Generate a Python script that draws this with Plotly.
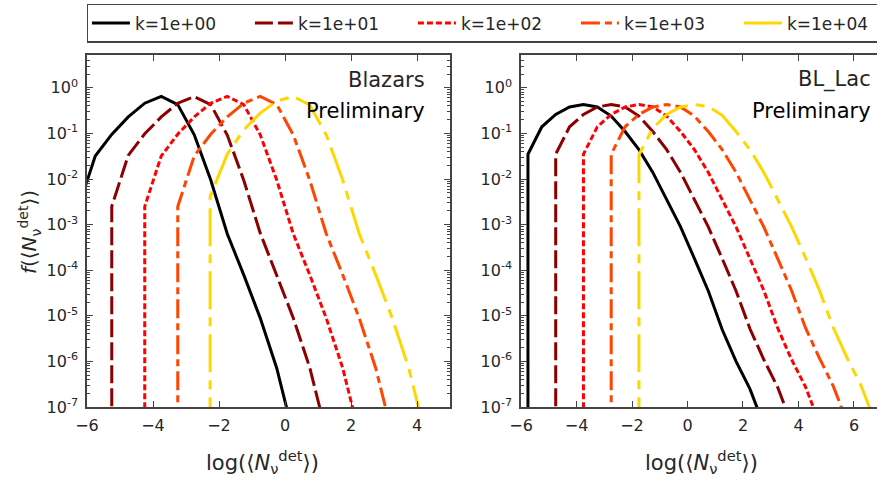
import plotly.graph_objects as go

# ---------------- data ----------------
labels = ["k=1e+00", "k=1e+01", "k=1e+02", "k=1e+03", "k=1e+04"]
colors = ["#000000", "#8b0000", "#ff0000", "#ff4500", "#ffd700"]
dashes = ["solid", "18px,5px", "6px,3px", "19px,5px,7px,5px", "38px,8px,9px,8px"]

# Blazars panel (first point of each series is effectively zero, below the plotted range)
blz_x_k1 = [-6.25, -6.25, -5.75, -5.25, -4.75, -4.25, -3.75, -3.25, -2.75, -2.25, -1.75, -1.25, -0.75, -0.25, 0.25]
blz_y_k1 = [1e-9, 2.5e-3, 3.2e-2, 9.5e-2, 0.23, 0.46, 0.65, 0.43, 9.3e-2, 9.5e-3, 6.3e-4, 7.9e-5, 8.9e-6, 7.1e-7, 2.5e-8]
blz_x_k2 = [-5.25, -5.25, -4.75, -4.25, -3.75, -3.25, -2.75, -2.25, -1.75, -1.25, -0.75, -0.25, 0.25, 0.75, 1.25]
blz_y_k2 = [1e-9, 2.5e-3, 3.3e-2, 9.8e-2, 0.23, 0.46, 0.64, 0.43, 9.2e-2, 9.4e-3, 6.5e-4, 8.0e-5, 9.0e-6, 7.3e-7, 2.6e-8]
blz_x_k3 = [-4.25, -4.25, -3.75, -3.25, -2.75, -2.25, -1.75, -1.25, -0.75, -0.25, 0.25, 0.75, 1.25, 1.75, 2.25]
blz_y_k3 = [1e-9, 2.5e-3, 3.2e-2, 9.6e-2, 0.23, 0.46, 0.65, 0.43, 9.3e-2, 9.5e-3, 6.3e-4, 7.9e-5, 8.9e-6, 7.1e-7, 2.5e-8]
blz_x_k4 = [-3.25, -3.25, -2.75, -2.25, -1.75, -1.25, -0.75, -0.25, 0.25, 0.75, 1.25, 1.75, 2.25, 2.75, 3.25]
blz_y_k4 = [1e-9, 2.5e-3, 3.2e-2, 9.6e-2, 0.23, 0.46, 0.65, 0.43, 9.3e-2, 9.5e-3, 6.3e-4, 7.9e-5, 8.9e-6, 7.1e-7, 2.5e-8]
blz_x_k5 = [-2.27, -2.27, -1.75, -1.25, -0.75, -0.25, 0.25, 0.75, 1.25, 1.75, 2.25, 2.75, 3.25, 3.75, 4.25]
blz_y_k5 = [1e-9, 4.1e-3, 3.5e-2, 0.12, 0.28, 0.51, 0.65, 0.42, 9.3e-2, 9.5e-3, 6.3e-4, 7.9e-5, 8.9e-6, 7.1e-7, 2.5e-8]

# BL_Lac panel
bll_x_k1 = [-5.75, -5.75, -5.25, -4.75, -4.25, -3.75, -3.25, -2.75, -2.25, -1.75, -1.25, -0.75, -0.25, 0.25, 0.75, 1.25, 1.75, 2.25, 2.75]
bll_y_k1 = [1e-9, 3.5e-2, 0.14, 0.26, 0.38, 0.43, 0.38, 0.24, 0.11, 4.4e-2, 1.4e-2, 3.5e-3, 8.9e-4, 1.8e-4, 3.5e-5, 5.0e-6, 1.0e-6, 2.5e-7, 4.0e-8]
bll_x_k2 = [-4.75, -4.75, -4.25, -3.75, -3.25, -2.75, -2.25, -1.75, -1.25, -0.75, -0.25, 0.25, 0.75, 1.25, 1.75, 2.25, 2.75, 3.25, 3.75]
bll_y_k2 = [1e-9, 3.5e-2, 0.14, 0.26, 0.38, 0.43, 0.38, 0.24, 0.11, 4.4e-2, 1.4e-2, 3.5e-3, 8.9e-4, 1.8e-4, 3.5e-5, 5.2e-6, 1.1e-6, 2.7e-7, 4.3e-8]
bll_x_k3 = [-3.75, -3.75, -3.25, -2.75, -2.25, -1.75, -1.25, -0.75, -0.25, 0.25, 0.75, 1.25, 1.75, 2.25, 2.75, 3.25, 3.75, 4.25, 4.75]
bll_y_k3 = [1e-9, 3.5e-2, 0.14, 0.26, 0.38, 0.43, 0.38, 0.24, 0.11, 4.4e-2, 1.4e-2, 3.5e-3, 8.9e-4, 1.8e-4, 3.6e-5, 5.4e-6, 1.1e-6, 2.8e-7, 4.5e-8]
bll_x_k4 = [-2.75, -2.75, -2.25, -1.75, -1.25, -0.75, -0.25, 0.25, 0.75, 1.25, 1.75, 2.25, 2.75, 3.25, 3.75, 4.25, 4.75, 5.25, 5.75]
bll_y_k4 = [1e-9, 3.5e-2, 0.14, 0.26, 0.38, 0.43, 0.38, 0.24, 0.11, 4.4e-2, 1.4e-2, 3.5e-3, 8.9e-4, 1.8e-4, 3.6e-5, 5.5e-6, 1.2e-6, 2.9e-7, 4.7e-8]
bll_x_k5 = [-1.75, -1.75, -1.25, -0.75, -0.25, 0.25, 0.75, 1.25, 1.75, 2.25, 2.75, 3.25, 3.75, 4.25, 4.75, 5.25, 5.75, 6.25, 6.75]
bll_y_k5 = [1e-9, 3.4e-2, 0.13, 0.26, 0.38, 0.43, 0.39, 0.25, 0.11, 4.4e-2, 1.4e-2, 3.5e-3, 9.0e-4, 1.9e-4, 3.7e-5, 5.6e-6, 1.2e-6, 3.0e-7, 4.9e-8]

ytick_vals = [1e-7, 1e-6, 1e-5, 1e-4, 1e-3, 1e-2, 1e-1, 1e0]
ytick_text = ["10<sup>-7</sup>", "10<sup>-6</sup>", "10<sup>-5</sup>", "10<sup>-4</sup>",
              "10<sup>-3</sup>", "10<sup>-2</sup>", "10<sup>-1</sup>", "10<sup>0</sup>"]
xtick_vals = [-6, -4, -2, 0, 2, 4, 6]

blz_x = [blz_x_k1, blz_x_k2, blz_x_k3, blz_x_k4, blz_x_k5]
blz_y = [blz_y_k1, blz_y_k2, blz_y_k3, blz_y_k4, blz_y_k5]
bll_x = [bll_x_k1, bll_x_k2, bll_x_k3, bll_x_k4, bll_x_k5]
bll_y = [bll_y_k1, bll_y_k2, bll_y_k3, bll_y_k4, bll_y_k5]

# ---------------- figure ----------------
FONT = "DejaVu Sans"
fig = go.Figure()

for i in range(5):
    fig.add_trace(go.Scatter(
        x=blz_x[i], y=blz_y[i], mode="lines", name=labels[i], legendgroup=labels[i],
        line=dict(color=colors[i], width=3, dash=dashes[i]),
        xaxis="x", yaxis="y", showlegend=True))
for i in range(5):
    fig.add_trace(go.Scatter(
        x=bll_x[i], y=bll_y[i], mode="lines", name=labels[i], legendgroup=labels[i],
        line=dict(color=colors[i], width=3, dash=dashes[i]),
        xaxis="x2", yaxis="y2", showlegend=False))

minor_vals = [m * 10.0 ** e for e in range(-7, 1) for m in range(2, 10)]

axis_common = dict(showline=True, linecolor="#444444", linewidth=1.5, ticks="inside",
                   ticklen=6, tickwidth=1.2, tickcolor="#444444", showgrid=False,
                   zeroline=False, tickfont=dict(family=FONT, size=16, color="#262626"))

xcommon = dict(axis_common, tickmode="array", tickvals=xtick_vals, mirror="ticks",
               ticklabelstandoff=3)
ycommon = dict(axis_common, type="log", range=[-7, 0.72], tickmode="array",
               tickvals=ytick_vals, ticktext=ytick_text, ticklabelstandoff=4,
               minor=dict(tickmode="array", tickvals=minor_vals, ticks="inside",
                          ticklen=3, tickcolor="#444444", showgrid=False))

fig.update_layout(
    width=877, height=485,
    margin=dict(l=87, r=0, t=55, b=78, autoexpand=False),
    paper_bgcolor="white", plot_bgcolor="white",
    font=dict(family=FONT, color="#262626"),
    xaxis=dict(xcommon, domain=[0, 0.4595], range=[-6, 5], anchor="y"),
    yaxis=dict(ycommon, domain=[0, 1], anchor="x", mirror="ticks"),
    xaxis2=dict(xcommon, domain=[0.5494, 1], range=[-6, 6.83], anchor="y2"),
    yaxis2=dict(ycommon, domain=[0, 1], anchor="x2", mirror=False),
    showlegend=True,
    legend=dict(orientation="h", x=-0.0001, xanchor="left", y=1.145, yanchor="top",
                bgcolor="white", bordercolor="#444444", borderwidth=1.5,
                font=dict(family=FONT, size=17, color="#262626"),
                itemwidth=38, entrywidth=110, entrywidthmode="pixels",
                itemclick=False, itemdoubleclick=False),
)

ann_font = dict(family=FONT, size=21)
annotations = [
    dict(text="Blazars", x=0.4304, y=0.929, font=dict(ann_font, color="#262626")),
    dict(text="Preliminary", x=0.4304, y=0.841, font=dict(ann_font, color="#000000")),
    dict(text="BL_Lac", x=0.995, y=0.929, font=dict(ann_font, color="#262626")),
    dict(text="Preliminary", x=0.995, y=0.841, font=dict(ann_font, color="#000000")),
]
for a in annotations:
    fig.add_annotation(xref="paper", yref="paper", xanchor="right", yanchor="middle",
                       showarrow=False, **a)

xlabel = "log(⟨<i>N</i><sub>ν</sub><sup>det</sup>⟩)"
ylabel = "<i>f</i>(⟨<i>N</i><sub>ν</sub><sup>det</sup>⟩)"
lab_font = dict(family=FONT, size=21, color="#262626")
fig.add_annotation(text=xlabel, xref="paper", yref="paper", x=0.222, y=-0.156,
                   xanchor="center", yanchor="middle", showarrow=False, font=lab_font)
fig.add_annotation(text=xlabel, xref="paper", yref="paper", x=0.778, y=-0.156,
                   xanchor="center", yanchor="middle", showarrow=False, font=lab_font)
fig.add_annotation(text=ylabel, xref="paper", yref="paper", x=-0.0734, y=0.497,
                   xanchor="center", yanchor="middle", textangle=-90, showarrow=False,
                   font=dict(lab_font, size=20))

fig.write_html("out.html")
